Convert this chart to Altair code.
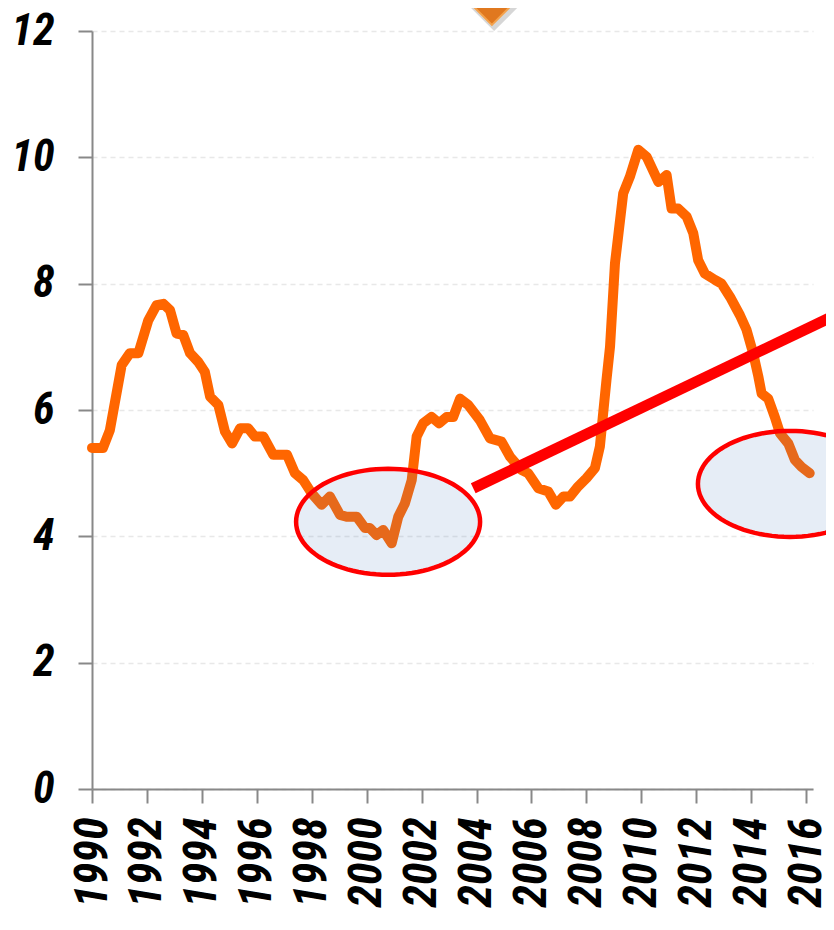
import altair as alt
import pandas as pd
import numpy as np

# ---- data ----
years = [1990.00, 1990.40, 1990.65, 1991.08, 1991.38, 1991.69, 1992.05, 1992.35, 1992.60, 1992.84,
         1993.08, 1993.32, 1993.57, 1993.87, 1994.11, 1994.30, 1994.60, 1994.84, 1995.10, 1995.39,
         1995.69, 1995.93, 1996.24, 1996.60, 1997.10, 1997.39, 1997.69, 1998.00, 1998.36, 1998.66,
         1999.03, 1999.27, 1999.64, 1999.94, 2000.12, 2000.36, 2000.60, 2000.91, 2001.15, 2001.39,
         2001.64, 2001.82, 2002.06, 2002.36, 2002.64, 2002.91, 2003.15, 2003.40, 2003.70, 2004.12,
         2004.49, 2004.91, 2005.22, 2005.64, 2005.88, 2006.25, 2006.61, 2006.89, 2007.16, 2007.40,
         2007.70, 2008.00, 2008.31, 2008.49, 2008.61, 2008.73, 2008.86, 2009.04, 2009.34, 2009.58,
         2009.89, 2010.19, 2010.62, 2010.92, 2011.10, 2011.34, 2011.65, 2011.89, 2012.07, 2012.31,
         2012.68, 2012.92, 2013.23, 2013.59, 2013.83, 2014.07, 2014.26, 2014.38, 2014.62, 2014.86,
         2015.05, 2015.35, 2015.59, 2015.83, 2016.13]
rates = [5.40, 5.40, 5.68, 6.71, 6.90, 6.90, 7.42, 7.66, 7.68, 7.58,
         7.21, 7.19, 6.90, 6.76, 6.60, 6.21, 6.08, 5.66, 5.47, 5.71,
         5.71, 5.58, 5.58, 5.29, 5.29, 5.00, 4.89, 4.68, 4.50, 4.63,
         4.34, 4.31, 4.31, 4.13, 4.13, 4.02, 4.10, 3.89, 4.31, 4.52,
         4.89, 5.58, 5.79, 5.89, 5.79, 5.89, 5.89, 6.18, 6.08, 5.84,
         5.55, 5.50, 5.26, 5.05, 5.00, 4.76, 4.71, 4.50, 4.63, 4.63,
         4.79, 4.92, 5.08, 5.42, 5.95, 6.47, 7.00, 8.32, 9.43, 9.69,
         10.12, 10.01, 9.61, 9.72, 9.19, 9.19, 9.06, 8.80, 8.37, 8.16,
         8.06, 8.00, 7.79, 7.50, 7.27, 6.90, 6.53, 6.26, 6.18, 5.89,
         5.63, 5.47, 5.21, 5.10, 5.00]

trend_years = [2003.88, 2017.2]
trend_values = [4.76, 7.53]

ellipse_years = [2000.78, 2015.41]
ellipse_values = [4.23, 4.83]

marker_year = [2004.56]
marker_value = [12.73]
shadow_year = [2004.64]
shadow_value = [12.68]

tick_years = list(range(1990, 2017))
y_ticks = [0, 2, 4, 6, 8, 10, 12]

# ---- tables ----
df_line = pd.DataFrame({"year": years, "rate": rates})
df_trend = pd.DataFrame({"year": trend_years, "rate": trend_values})
df_ell = pd.DataFrame({"year": ellipse_years, "rate": ellipse_values})
df_mark = pd.DataFrame({"year": marker_year, "rate": marker_value})
df_shadow = pd.DataFrame({"year": shadow_year, "rate": shadow_value})

FONT = "Roboto Condensed, Liberation Sans Narrow, DejaVu Sans Condensed, sans-serif"

x_scale = alt.Scale(domain=[1990, 2016.25], nice=False, zero=False)
y_scale = alt.Scale(domain=[0, 12], nice=False)

x_enc = alt.X("year:Q", scale=x_scale, title=None,
              axis=alt.Axis(values=tick_years, labelExpr="datum.value % 2 === 0 ? datum.label : ''",
                            format="d", labelAngle=270, labelOverlap=False, labelFlush=False,
                            grid=False, tickSize=14, labelPadding=14, labelFontSize=46))
y_enc = alt.Y("rate:Q", scale=y_scale, title=None,
              axis=alt.Axis(values=y_ticks, format="d", grid=True, tickSize=14, labelPadding=24,
                            labelFlush=False, labelOverlap=False, labelFontSize=44))

base_line = alt.Chart(df_line).mark_line(
    color="#FF6600", strokeWidth=10, strokeCap="round", strokeJoin="round"
).encode(x=x_enc, y=y_enc)

trend = alt.Chart(df_trend).mark_line(
    color="#FF0000", strokeWidth=11, strokeCap="butt"
).encode(x=alt.X("year:Q", scale=x_scale), y=alt.Y("rate:Q", scale=y_scale))

# ellipse outline as a custom symbol path (unit coordinates)
ratio = 53.0 / 92.0
t = np.linspace(0, 2 * np.pi, 97)
pts = [f"{np.cos(a):.4f},{ratio * np.sin(a):.4f}" for a in t[:-1]]
ellipse_path = "M" + " L".join(pts) + " Z"

ellipses = alt.Chart(df_ell).mark_point(
    shape=ellipse_path, size=184 * 184, filled=True, fill="#4F81BD", fillOpacity=0.14,
    stroke="#FF0000", strokeWidth=4.5, opacity=1, strokeOpacity=1
).encode(x=alt.X("year:Q", scale=x_scale), y=alt.Y("rate:Q", scale=y_scale))

shadow = alt.Chart(df_shadow).mark_point(
    shape="diamond", size=86 * 86, filled=True, fill="#777777", opacity=0.3, strokeWidth=0
).encode(x=alt.X("year:Q", scale=x_scale), y=alt.Y("rate:Q", scale=y_scale))

marker = alt.Chart(df_mark).mark_point(
    shape="diamond", size=80 * 80, filled=True, fill="#E0781F", stroke="#F4A24C",
    strokeWidth=2, opacity=1
).encode(x=alt.X("year:Q", scale=x_scale), y=alt.Y("rate:Q", scale=y_scale))

chart = alt.layer(base_line, trend, ellipses, shadow, marker).properties(
    width=721, height=758,
    autosize=alt.AutoSizeParams(type="none"),
    padding={"left": 84, "top": 23, "right": 13, "bottom": 133},
    background="white",
).configure_view(stroke=None).configure_axis(
    domainColor="#888888", domainWidth=2, tickColor="#888888", tickWidth=2,
    gridColor="#E8E8E8", gridDash=[5, 4], gridWidth=1.5,
    labelFont=FONT, labelFontWeight="bold", labelFontStyle="italic",
    labelColor="#000000",
)

chart.save("out.html", embed_options={"renderer": "svg", "actions": False})
